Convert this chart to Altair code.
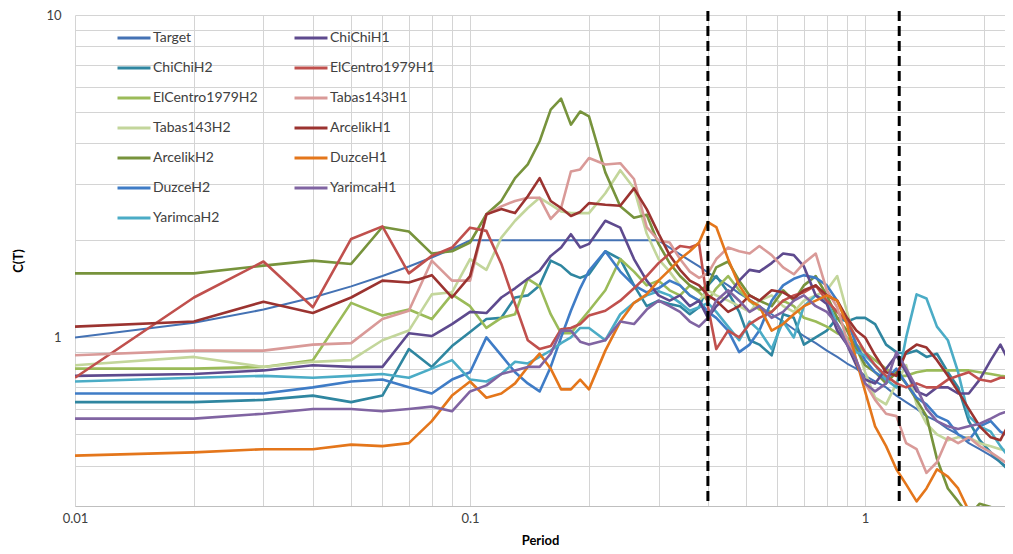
import altair as alt
import pandas as pd

# ---- data ----
periods = [0.01, 0.02, 0.03, 0.04, 0.05, 0.06, 0.07, 0.08, 0.09, 0.10,
           0.11, 0.12, 0.13, 0.14, 0.15, 0.16, 0.17, 0.18, 0.19, 0.20,
           0.22, 0.24, 0.26, 0.28, 0.30, 0.32, 0.34, 0.36, 0.38, 0.40, 0.42,
           0.45, 0.48, 0.51, 0.54, 0.58, 0.62, 0.66, 0.70,
           0.75, 0.80, 0.85, 0.90, 0.95, 1.00,
           1.06, 1.13, 1.20, 1.27, 1.35, 1.43, 1.52, 1.62, 1.72, 1.83, 1.95, 2.08, 2.20, 2.40]

# legend is laid out column by column: first column, then second column
series_names = ["Target", "ChiChiH2", "ElCentro1979H2", "Tabas143H2", "ArcelikH2", "DuzceH2", "YarimcaH2",
                "ChiChiH1", "ElCentro1979H1", "Tabas143H1", "ArcelikH1", "DuzceH1", "YarimcaH1"]
series_colors = ["#4472B4", "#2F86A0", "#9BBB59", "#C3D69B", "#77933C", "#3F7CC6", "#4BACC6",
                 "#5E4A8E", "#C0504D", "#D99A98", "#9B3330", "#E4761B", "#8064A2"]

target = [1.00, 1.11, 1.22, 1.33, 1.44, 1.55, 1.66, 1.77, 1.88, 2.00,
          2.00, 2.00, 2.00, 2.00, 2.00, 2.00, 2.00, 2.00, 2.00, 2.00,
          2.00, 2.00, 2.00, 2.00, 2.00, 1.90, 1.81, 1.73, 1.66, 1.59, 1.53,
          1.45, 1.37, 1.31, 1.25, 1.18, 1.12, 1.06, 1.01,
          0.96, 0.91, 0.87, 0.83, 0.80, 0.76,
          0.73, 0.70, 0.66, 0.63, 0.60, 0.57, 0.55, 0.52, 0.50, 0.47, 0.45, 0.43, 0.41, 0.38]
chichi_h1 = [0.76, 0.77, 0.79, 0.82, 0.81, 0.81, 1.03, 1.01, 1.10, 1.20,
             1.19, 1.33, 1.42, 1.52, 1.61, 1.79, 1.90, 2.09, 1.90, 1.95,
             2.30, 2.19, 1.75, 1.50, 1.35, 1.30, 1.35, 1.25, 1.30, 1.15, 1.25,
             1.35, 1.50, 1.62, 1.60, 1.70, 1.82, 1.80, 1.66,
             1.35, 1.27, 1.05, 0.95, 0.82, 0.74,
             0.72, 0.80, 0.88, 0.78, 0.68, 0.66, 0.70, 0.70, 0.67, 0.67, 0.74, 0.85, 0.95, 0.77]
chichi_h2 = [0.63, 0.63, 0.64, 0.66, 0.63, 0.66, 0.92, 0.81, 0.94, 1.04,
             1.14, 1.15, 1.33, 1.35, 1.45, 1.73, 1.67, 1.57, 1.53, 1.57,
             1.85, 1.75, 1.45, 1.25, 1.30, 1.27, 1.25, 1.18, 1.24, 1.45, 1.55,
             1.38, 1.20, 0.98, 0.95, 0.88, 1.18, 1.15, 0.95,
             1.00, 1.05, 1.15, 1.12, 1.15, 1.15,
             1.10, 0.95, 0.90, 0.89, 0.91, 0.87, 0.89, 0.78, 0.70, 0.55, 0.48, 0.44, 0.41, 0.37]
elcentro_h1 = [0.75, 1.33, 1.72, 1.24, 2.02, 2.21, 1.58, 1.79, 1.90, 2.19,
               2.14, 1.69, 1.27, 0.98, 0.92, 0.94, 1.06, 1.07, 1.10, 1.17,
               1.21, 1.30, 1.42, 1.55, 1.70, 1.82, 1.92, 1.90, 1.95, 1.25, 0.92,
               1.05, 1.00, 1.10, 1.15, 1.20, 1.30, 1.35, 1.38,
               1.45, 1.30, 1.20, 1.12, 1.00, 0.90,
               0.82, 0.76, 0.72, 0.70, 0.72, 0.70, 0.70, 0.74, 0.76, 0.78, 0.74, 0.73, 0.75, 0.75]
elcentro_h2 = [0.80, 0.80, 0.81, 0.85, 1.28, 1.17, 1.22, 1.14, 1.36, 1.25,
               1.07, 1.15, 1.18, 1.52, 1.44, 1.18, 1.03, 1.03, 1.12, 1.21,
               1.40, 1.75, 1.60, 1.45, 1.50, 1.40, 1.35, 1.45, 1.38, 1.30, 1.42,
               1.55, 1.40, 1.30, 1.22, 1.20, 1.30, 1.25, 1.15,
               1.12, 1.08, 1.03, 1.00, 0.95, 0.90,
               0.85, 0.80, 0.76, 0.76, 0.78, 0.79, 0.79, 0.79, 0.79, 0.79, 0.78, 0.77, 0.76, 0.75]
tabas_h1 = [0.88, 0.91, 0.91, 0.95, 0.96, 1.14, 1.21, 1.73, 1.50, 1.50,
            2.40, 2.55, 2.65, 2.71, 2.71, 2.33, 2.52, 3.27, 3.32, 3.60,
            3.44, 3.47, 3.10, 2.20, 2.00, 1.97, 1.75, 1.60, 1.53, 1.58, 1.75,
            1.90, 1.85, 1.82, 1.92, 1.80, 1.65, 1.57, 1.70,
            1.82, 1.40, 1.24, 0.98, 0.85, 0.72,
            0.64, 0.58, 0.57, 0.47, 0.45, 0.38, 0.41, 0.49, 0.47, 0.49, 0.46, 0.44, 0.42, 0.39]
tabas_h2 = [0.82, 0.87, 0.81, 0.84, 0.85, 0.98, 1.05, 1.36, 1.38, 1.75,
            1.62, 2.04, 2.30, 2.52, 2.71, 2.58, 2.46, 2.43, 2.43, 2.43,
            2.80, 3.30, 2.90, 2.10, 1.75, 1.60, 1.45, 1.35, 1.30, 1.40, 1.35,
            1.30, 1.25, 1.20, 1.30, 1.35, 1.25, 1.20, 1.30,
            1.35, 1.40, 1.55, 1.20, 0.95, 0.78,
            0.65, 0.62, 0.72, 0.82, 0.62, 0.54, 0.50, 0.48, 0.49, 0.49, 0.47, 0.46, 0.45, 0.44]
arcelik_h1 = [1.08, 1.12, 1.29, 1.19, 1.33, 1.50, 1.48, 1.56, 1.33, 1.55,
              2.41, 2.50, 2.43, 2.74, 3.12, 2.65, 2.52, 2.38, 2.45, 2.61,
              2.58, 2.56, 2.90, 2.50, 2.10, 1.80, 1.62, 1.50, 1.45, 1.35, 1.30,
              1.20, 1.25, 1.35, 1.30, 1.40, 1.38, 1.32, 1.40,
              1.45, 1.35, 1.30, 1.15, 1.05, 1.00,
              0.88, 0.78, 0.76, 0.90, 0.95, 0.93, 0.85, 0.76, 0.68, 0.60, 0.53, 0.49, 0.48, 0.59]
arcelik_h2 = [1.58, 1.58, 1.67, 1.73, 1.69, 2.20, 2.13, 1.82, 1.85, 1.97,
              2.41, 2.65, 3.12, 3.44, 4.06, 5.09, 5.50, 4.57, 5.02, 4.85,
              3.25, 2.55, 2.35, 2.40, 1.95, 1.70, 1.55, 1.45, 1.40, 1.45, 1.65,
              1.72, 1.50, 1.35, 1.30, 1.25, 1.40, 1.30, 1.45,
              1.55, 1.35, 1.15, 1.05, 0.92, 0.82,
              0.78, 0.72, 0.78, 0.72, 0.64, 0.57, 0.42, 0.34, 0.31, 0.28, 0.305, 0.298, 0.27, 0.26]
duzce_h1 = [0.43, 0.44, 0.45, 0.45, 0.465, 0.46, 0.47, 0.55, 0.66, 0.73,
            0.65, 0.67, 0.72, 0.81, 0.89, 0.80, 0.69, 0.69, 0.74, 0.69,
            0.91, 1.12, 1.28, 1.36, 1.50, 1.62, 1.75, 1.85, 1.97, 2.28, 2.20,
            1.75, 1.45, 1.30, 1.25, 1.05, 1.10, 1.18, 1.25,
            1.30, 1.35, 1.30, 1.10, 0.85, 0.68,
            0.53, 0.46, 0.39, 0.35, 0.31, 0.34, 0.39, 0.37, 0.34, 0.29, 0.26, 0.24, 0.23, 0.22]
duzce_h2 = [0.67, 0.67, 0.67, 0.70, 0.73, 0.74, 0.70, 0.67, 0.74, 0.78,
            1.00, 0.88, 0.78, 0.72, 0.68, 0.81, 1.00, 1.21, 1.42, 1.61,
            1.85, 1.60, 1.45, 1.38, 1.42, 1.50, 1.45, 1.35, 1.30, 1.20, 1.15,
            1.05, 0.90, 0.95, 1.05, 1.30, 1.45, 1.52, 1.56,
            1.53, 1.45, 1.30, 1.13, 0.95, 0.85,
            0.78, 0.74, 0.80, 0.72, 0.65, 0.62, 0.57, 0.55, 0.50, 0.48, 0.53, 0.55, 0.51, 0.48]
yarimca_h1 = [0.56, 0.56, 0.58, 0.60, 0.60, 0.59, 0.60, 0.61, 0.59, 0.68,
              0.71, 0.77, 0.79, 0.81, 0.81, 0.89, 1.05, 1.05, 0.97, 0.95,
              0.98, 1.12, 1.10, 1.22, 1.30, 1.25, 1.20, 1.12, 1.08, 1.15, 1.30,
              1.40, 1.30, 1.20, 1.25, 1.15, 1.20, 1.30, 1.35,
              1.25, 1.20, 1.10, 0.95, 0.85, 0.72,
              0.68, 0.72, 0.90, 0.80, 0.70, 0.60, 0.55, 0.53, 0.52, 0.53, 0.54, 0.56, 0.58, 0.60]
yarimca_h2 = [0.73, 0.75, 0.76, 0.75, 0.76, 0.77, 0.75, 0.80, 0.85, 0.74,
              0.73, 0.77, 0.84, 0.83, 0.87, 0.91, 0.96, 1.00, 1.07, 1.07,
              0.98, 1.18, 1.28, 1.35, 1.39, 1.35, 1.28, 1.21, 1.24, 1.28, 1.20,
              1.08, 0.98, 1.12, 1.05, 0.92, 1.12, 1.00, 1.25,
              1.35, 1.30, 1.10, 0.98, 0.90, 0.88,
              0.82, 0.74, 0.70, 1.00, 1.36, 1.32, 1.08, 0.98, 0.78, 0.57, 0.53, 0.51, 0.46, 0.40]

all_series = {
    "Target": target, "ChiChiH1": chichi_h1, "ChiChiH2": chichi_h2,
    "ElCentro1979H1": elcentro_h1, "ElCentro1979H2": elcentro_h2,
    "Tabas143H1": tabas_h1, "Tabas143H2": tabas_h2,
    "ArcelikH1": arcelik_h1, "ArcelikH2": arcelik_h2,
    "DuzceH1": duzce_h1, "DuzceH2": duzce_h2,
    "YarimcaH1": yarimca_h1, "YarimcaH2": yarimca_h2,
}

x_grid = [0.01, 0.02, 0.03, 0.04, 0.05, 0.06, 0.07, 0.08, 0.09,
          0.1, 0.2, 0.3, 0.4, 0.5, 0.6, 0.7, 0.8, 0.9, 1, 2]
y_grid = [0.3, 0.4, 0.5, 0.6, 0.7, 0.8, 0.9, 1, 2, 3, 4, 5, 6, 7, 8, 9, 10]
dash_periods = [0.4, 1.22]

rows = []
for name in series_names:
    for p, v in zip(periods, all_series[name]):
        rows.append({"period": p, "value": v, "series": name})
df = pd.DataFrame(rows)

FONT = "Lato"
GRID = "#D4D4D4"
PLOT_H = 491

x_scale = alt.Scale(type="log", domain=[0.01, 2.26], nice=False)
y_scale = alt.Scale(type="log", domain=[0.3, 10], nice=False)

x_axis = alt.Axis(values=x_grid,
                  labelExpr="datum.value == 0.01 ? '0.01' : (datum.value == 0.1 ? '0.1' : (datum.value == 1 ? '1' : ''))",
                  title="Period", titleFont=FONT, titleFontSize=13, titleFontWeight="bold",
                  titleColor="#000000", titlePadding=9,
                  labelFont=FONT, labelFontSize=13, labelColor="#404040", labelPadding=6,
                  labelFlush=False, labelOverlap=False,
                  grid=True, gridColor=GRID, gridWidth=1, ticks=False,
                  domainColor="#BFBFBF", domainWidth=1)
y_axis = alt.Axis(values=y_grid,
                  labelExpr="datum.value == 1 ? '1' : (datum.value == 10 ? '10' : '')",
                  title="C(T)", titleFont=FONT, titleFontSize=13, titleFontWeight="bold",
                  titleColor="#000000", titlePadding=20,
                  labelFont=FONT, labelFontSize=13, labelColor="#404040", labelPadding=14,
                  labelFlush=False, labelOverlap=False,
                  grid=True, gridColor=GRID, gridWidth=1, ticks=False, domain=False)

lines = alt.Chart(df).mark_line(clip=True, strokeJoin="round").encode(
    x=alt.X("period:Q", scale=x_scale, axis=x_axis),
    y=alt.Y("value:Q", scale=y_scale, axis=y_axis),
    color=alt.Color("series:N",
                    scale=alt.Scale(domain=series_names, range=series_colors),
                    legend=alt.Legend(title=None, orient="none", legendX=49, legendY=13,
                                      columns=2, symbolType="M-2,0H2", symbolSize=272,
                                      symbolStrokeWidth=3, labelFont=FONT, labelFontSize=14,
                                      labelColor="#404040", labelOffset=9, rowPadding=13,
                                      columnPadding=30, padding=0)),
    strokeWidth=alt.condition(alt.datum.series == "Target", alt.value(2), alt.value(2.6)),
)

rules = alt.Chart(pd.DataFrame({"period": dash_periods})).mark_rule(
    color="#000000", strokeWidth=3, strokeDash=[10, 5]
).encode(
    x=alt.X("period:Q", scale=x_scale, axis=x_axis),
    y=alt.value(-4),
    y2=alt.value(PLOT_H),
)

chart = alt.layer(lines, rules).properties(
    width=930, height=PLOT_H,
    padding={"left": 67, "top": 7, "right": 0, "bottom": 40},
    autosize=alt.AutoSizeParams(type="none"),
).configure_view(strokeWidth=0)

chart.save("out.html", embed_options={"renderer": "svg", "actions": False})
